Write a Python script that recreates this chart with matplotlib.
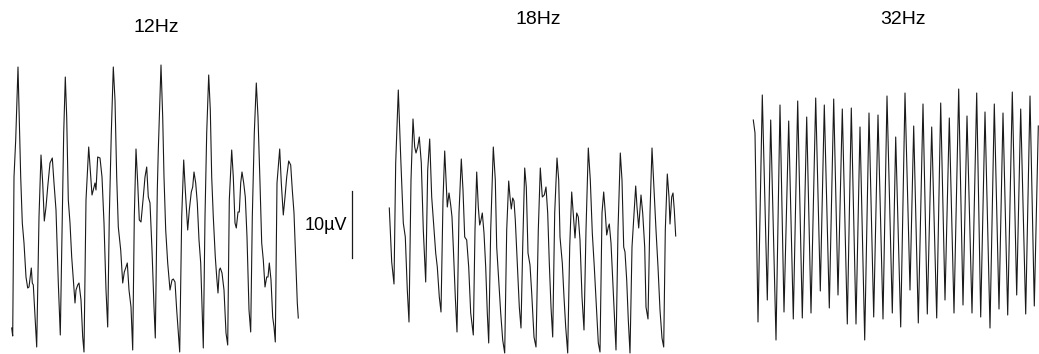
import matplotlib
matplotlib.use('Agg')
import matplotlib.pyplot as plt

plt.rcParams['font.family'] = ['Liberation Sans Narrow', 'Liberation Sans', 'DejaVu Sans']

# 读取的波形 (t: 采样点, a: 幅值, 6.7 单位 = 1 µV)
t_12 = [11.7, 12.7, 14, 15.7, 18, 20.7, 22.3, 24, 26, 27.7, 29, 31.3, 32.3, 33.3, 35, 36.7, 39, 41, 42.7, 44.3,
        46, 47.7, 50, 52.3, 54, 56, 58.3, 60.3, 62.3, 63.7, 65.3, 66.7, 68.3, 70, 71.7, 73.3, 75, 76, 77.7, 79,
        81, 82.7, 84, 86, 88.7, 90.3, 92, 93.3, 95, 96, 97.7, 100, 102, 104, 106, 107.7, 109.3, 111.3, 113.3, 115,
        116.7, 118.3, 120.7, 122.7, 124.3, 125.7, 127.3, 129, 131, 132.7, 134.3, 136, 137.7, 139.3, 141, 143.3, 145,
        146.7, 148.3, 150, 152, 154, 155.3, 157.3, 158.3, 161, 162.7, 164, 165.7, 167.7, 170, 172, 173.3, 175,
        176.7, 178.3, 179.7, 181.7, 183.7, 185.3, 187.7, 189.3, 191.3, 192.7, 194, 195.7, 197.3, 199, 200.7, 202.3,
        203.3, 205, 206.7, 208.7, 210.3, 211.7, 213.3, 215.3, 216.7, 218, 219.3, 220.3, 222, 224, 226, 227.7, 229.3,
        231.7, 233.3, 235, 236.3, 238, 239.3, 240.7, 242, 243.7, 245.3, 247, 249, 250.7, 252.3, 254.3, 256.3, 258,
        260, 261.7, 263.3, 265, 266.7, 268, 269.3, 271, 272.7, 274, 275.3, 277, 278.3, 279.7, 281.3, 283.3, 285,
        286.7, 288.7, 290.7, 292.3, 294, 295.7, 297.3, 298.3]
a_12 = [22, 14, 173, 210, 283, 173, 127, 107, 73, 62, 63, 82, 67, 65, 33, 3, 133, 195, 167, 129,
        143, 163, 187, 192, 167, 140, 67, 15, 133, 217, 273, 233, 150, 127, 93, 70, 47, 60, 65, 67,
        50, 13, -2, 150, 203, 180, 155, 160, 167, 160, 193, 192, 173, 127, 60, 23, 133, 217, 283, 250,
        173, 123, 100, 67, 78, 82, 87, 60, 43, 0, 133, 201, 167, 130, 128, 153, 173,
        183, 153, 147, 100, 43, 12, 160, 200, 285, 233, 173, 120, 87, 60, 70, 71, 68,
        40, 17, -2, 133, 190, 160, 120, 140, 158, 163, 178, 167, 147, 110, 87, 33,
        2, 133, 217, 275, 240, 173, 133, 93, 73, 57, 80, 82, 77, 60, 17, 5, 150,
        200, 173, 127, 122, 138, 138, 167, 178, 167, 153, 113, 40, 18, 133, 217, 267, 233,
        167, 107, 90, 63, 73, 73, 87, 70, 33, 23, 8, 167, 183, 201, 167, 135, 153,
        173, 189, 185, 160, 137, 90, 47, 32]

t_18 = [9.3, 11.7, 14, 15.7, 18.3, 20.7, 23.3, 25.3, 27.3, 29, 31, 33, 34.7, 36, 37.7, 39.3, 41.3, 43.3, 45.7, 47.7,
        49.7, 51.7, 53.3, 55.7, 57.3, 59.3, 61, 63, 64.7, 66.3, 67.3, 69, 70.7, 72, 73.3, 75.3, 77, 79, 81.3, 83,
        84.7, 86.7, 88.7, 90.7, 93.3, 95, 96.7, 98.3, 99.7, 101, 102.3, 104, 105.7, 107.3, 108.7, 110.7, 113.3,
        115.3, 116.7, 118.7, 120.7, 122.7, 124.7, 126.7, 128.7, 130, 131.3, 132.7, 134, 135.3, 137.3, 139.3, 141,
        142.7, 144.7, 146.3, 148, 150, 151.7, 154, 156, 158.3, 160.3, 162.3, 164.3, 166, 167.7, 169.3, 171, 172.7,
        174.7, 177, 178.7, 180, 182.3, 184, 185.7, 187.7, 189.7, 191.7, 193.7, 195, 196.7, 198.3, 200, 202, 204,
        206, 208.3, 210.3, 212.3, 214.3, 216.7, 218.3, 220, 222, 223.7, 225.3, 226.7, 228.3, 229.3, 231, 233.3,
        236, 238, 240.3, 242, 243.7, 245, 246.7, 248.3, 250, 252, 255.7, 257, 258.7, 261, 262.7, 264.7, 266, 268,
        270, 272, 274, 276, 278, 280, 282, 283.7, 285.3, 287.3, 289, 290, 291.7, 293, 294.3, 295.7]
a_18 = [142, 88, 66, 187, 260, 193, 127, 113, 60, 28, 170, 231, 203, 197, 203, 213, 187, 120, 68, 180,
        211, 153, 130, 97, 83, 53, 38, 150, 199, 163, 143, 157, 145, 133, 103, 53, 18, 137, 191, 160,
        113, 110, 83, 37, 15, 120, 178, 143, 125, 130, 137, 117, 83, 37, 7, 120, 203,
        170, 103, 70, 37, 10, -3, 120, 169, 153, 141, 152, 149, 130, 87, 43, 22,
        103, 182, 163, 97, 85, 57, 13, 3, 120, 182, 153, 155, 163, 137, 87, 43, 13,
        137, 192, 170, 113, 87, 53, 23, -3, 103, 158, 130, 112, 137, 133, 110, 53, 20,
        120, 202, 170, 117, 83, 37, 7, -2, 137, 158, 137, 115, 123, 126, 107, 57,
        0, 120, 197, 170, 103, 98, 70, 30, -3, 103, 164, 143, 122, 155, 137, 103, 43, 31,
        137, 202, 160, 120, 83, 40, 12, 3, 120, 176, 153, 126, 153, 157, 140, 114]

t_32 = [8.3, 10, 13, 17.3, 22.3, 25.7, 31, 35, 39, 43.7, 48.3, 52.7, 57.3, 61.7, 66, 70.7, 75.3, 79.3, 84.3, 88.7,
        93, 97.3, 102.3, 106.3, 111, 115, 119.7, 124, 128.7, 133, 138, 142, 147.3, 150.7, 155.7, 160, 165, 168.7,
        173.3, 178, 182.3, 186.7, 191.7, 195.7, 200, 204.3, 209, 213.7, 218, 222, 227, 231.7, 235.7, 240, 245,
        249.3, 254, 258, 262.7, 267.3, 271.7, 275.7, 280.7, 285, 289.3, 293.3]
a_32 = [230, 217, 28, 255, 50, 230, 10, 245, 38, 229, 31, 249, 32, 233, 37, 252, 59, 245, 42, 251,
        55, 241, 26, 242, 26, 223, 10, 237, 33, 235, 31, 254, 37, 213, 23, 257, 60, 224,
        27, 246, 36, 223, 32, 247, 50, 232, 37, 261, 45, 234, 37, 257, 33, 238, 22,
        246, 41, 237, 35, 258, 55, 241, 36, 254, 44, 224]

titles = ['12Hz', '18Hz', '32Hz']
units_per_uV = 6.7
scale_uV = 10

fig = plt.figure(figsize=(10.39, 3.54), dpi=100)
W, H = 1039.0, 354.0

# 三个子图的位置 (像素)
spans = [(0, 310), (380, 690), (745, 1039)]
series = [(t_12, a_12), (t_18, a_18), (t_32, a_32)]
title_pos = [(156, 27), (538 - 380, 20), (903 - 745, 20)]

axes = []
for (x0, x1), (t, a), title, (tx, ty) in zip(spans, series, titles, title_pos):
    ax = fig.add_axes([x0 / W, 0, (x1 - x0) / W, 1])
    ax.plot(t, a, color='#1a1a1a', linewidth=0.8)
    ax.set_xlim(0, x1 - x0)
    ax.set_ylim(-4, 350)
    ax.axis('off')
    ax.text(tx, 350 - ty, title, ha='center', va='center', fontsize=14)
    axes.append(ax)

# 10µV 比例尺
ax2 = axes[1]
bar_top = 159
ax2.plot([-28, -28], [bar_top, bar_top - scale_uV * units_per_uV], color='#1a1a1a',
         linewidth=0.9, clip_on=False)
ax2.text(-33, 124, '10µV', ha='right', va='center', fontsize=13, clip_on=False)

fig.savefig('out.png', dpi=100)
